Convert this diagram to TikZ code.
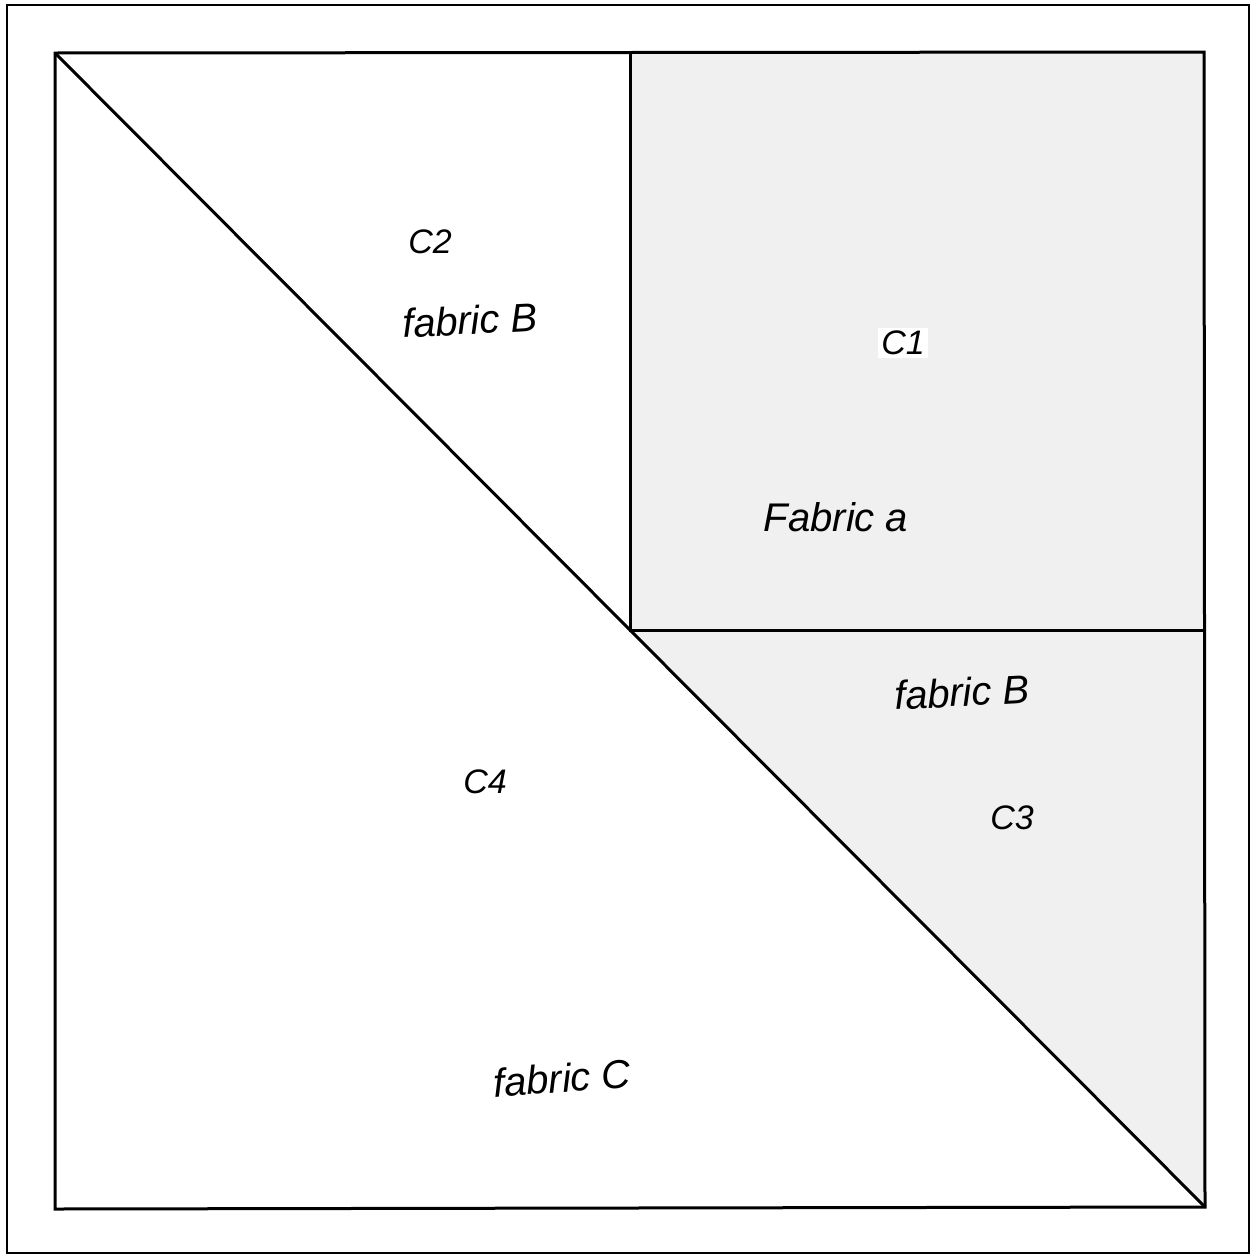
\documentclass[tikz,border=0pt]{standalone}
\usepackage{fontspec}
\setmainfont{Liberation Sans}
\begin{document}
\begin{tikzpicture}[x=1pt,y=-1pt,
  edge/.style={line width=3pt,line join=miter},
  frame/.style={line width=2pt},
  patch/.style={fill=black!6},
  lbl/.style={font=\fontsize{40}{46}\selectfont\itshape,inner sep=1pt},
  sml/.style={font=\fontsize{34}{40}\selectfont\itshape,inner sep=1pt}]
\useasboundingbox (0,0) rectangle (1252,1256);
\fill[white] (0,0) rectangle (1252,1256);
% corners
\coordinate (TL) at (55,53);
\coordinate (TR) at (1204,52);
\coordinate (BR) at (1205,1207);
\coordinate (BL) at (55,1209);
\coordinate (M)  at (630,630);
\coordinate (MT) at (630,53);
\coordinate (MR) at (1204,630);
% outer frame
\draw[frame] (7,5) rectangle (1249,1253);
% fills
\fill[patch] (MT) -- (TR) -- (MR) -- (M) -- cycle;
\fill[patch] (M) -- (MR) -- (BR) -- cycle;
% lines
\draw[edge] (TL) -- (TR) -- (BR) -- (BL) -- cycle;
\draw[edge] (TL) -- (BR);
\draw[edge] (MT) -- (M) -- (MR);
% labels
\node[sml] (c2) at (430,242) {C2};
\node[lbl,rotate=3] (fb1) at (470,320) {fabric B};
\node[sml,fill=white,inner sep=3pt] (c1) at (903,343) {C1};
\node[lbl] (fa) at (836,517) {Fabric a};
\node[lbl,rotate=3] (fb2) at (962,692) {fabric B};
\node[sml] (c3) at (1012,818) {C3};
\node[sml] (c4) at (485,782) {C4};
\node[lbl,rotate=4] (fc) at (562,1078) {fabric C};
\end{tikzpicture}
\end{document}
